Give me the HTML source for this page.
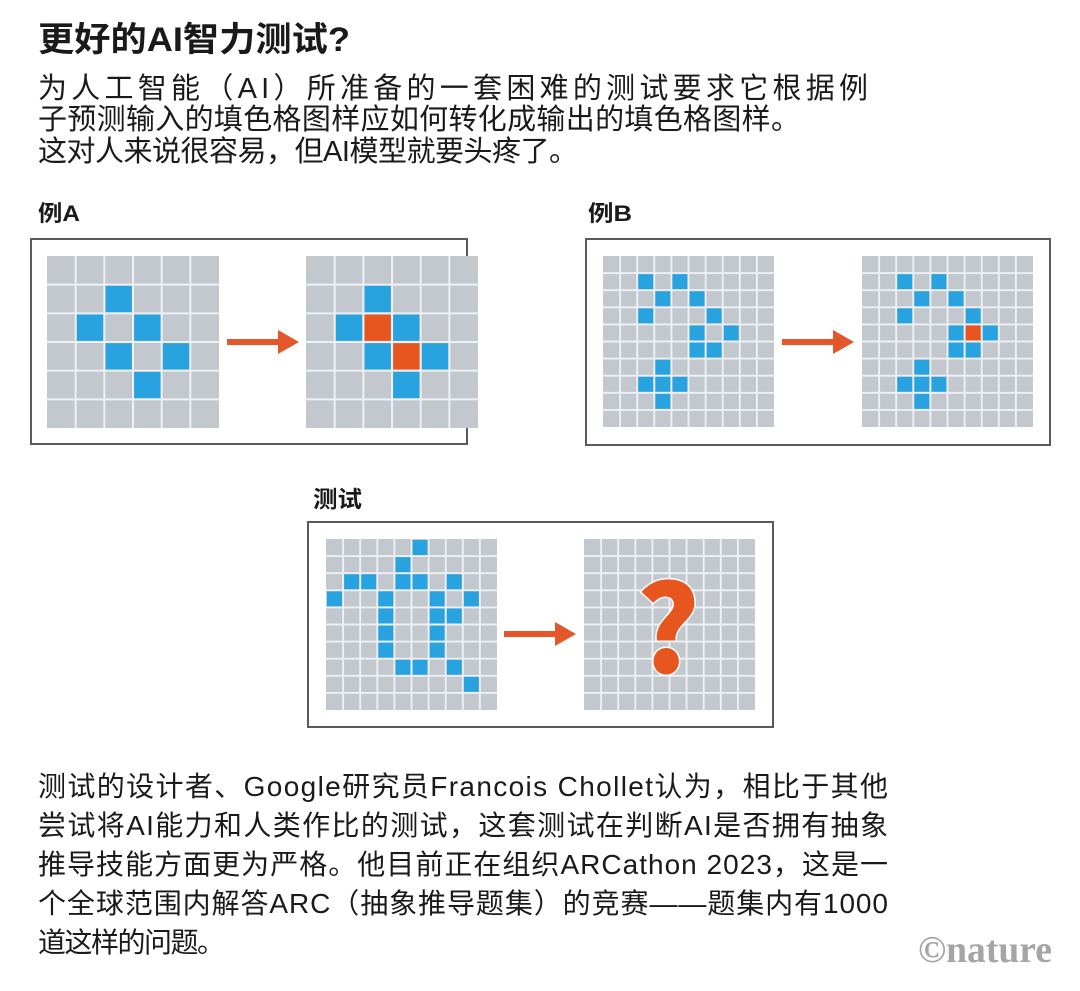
<!DOCTYPE html>
<html><head><meta charset="utf-8"><style>
html,body{margin:0;padding:0;background:#fff;}
svg{display:block;}
text{font-family:"Liberation Sans","Noto Sans CJK SC",sans-serif;fill:#1a1a1a;}
</style></head><body>
<svg width="1080" height="991" viewBox="0 0 1080 991" xmlns="http://www.w3.org/2000/svg">
<defs>
<g id="g6">
<rect x="0" y="0" width="6" height="6" fill="#c3c8cf"/>
<path d="M1 0V6M2 0V6M3 0V6M4 0V6M5 0V6M0 1H6M0 2H6M0 3H6M0 4H6M0 5H6" stroke="#eef0f3" stroke-width="0.07"/>
</g>
<g id="g10">
<rect x="0" y="0" width="10" height="10" fill="#c3c8cf"/>
<path d="M1 0V10M2 0V10M3 0V10M4 0V10M5 0V10M6 0V10M7 0V10M8 0V10M9 0V10M0 1H10M0 2H10M0 3H10M0 4H10M0 5H10M0 6H10M0 7H10M0 8H10M0 9H10" stroke="#eef0f3" stroke-width="0.11"/>
</g>
<g id="arrow">
<rect x="0" y="-3" width="54" height="6" fill="#e4572a"/>
<polygon points="51,-12 72,0 51,12" fill="#e4572a"/>
</g>
</defs>

<text x="38" y="51" font-size="34" font-weight="bold" textLength="312" lengthAdjust="spacingAndGlyphs">更好的AI智力测试?</text>
<text x="38" y="98" font-size="29" textLength="830" lengthAdjust="spacing">为人工智能（AI）所准备的一套困难的测试要求它根据例</text>
<text x="38" y="129" font-size="29" textLength="762" lengthAdjust="spacing">子预测输入的填色格图样应如何转化成输出的填色格图样。</text>
<text x="38" y="161" font-size="29" textLength="540" lengthAdjust="spacing">这对人来说很容易，但AI模型就要头疼了。</text>

<text x="38" y="221" font-size="22" font-weight="bold" textLength="42" lengthAdjust="spacingAndGlyphs">例A</text>
<text x="588" y="221" font-size="22" font-weight="bold" textLength="44" lengthAdjust="spacingAndGlyphs">例B</text>
<text x="313" y="507" font-size="23" font-weight="bold" textLength="49" lengthAdjust="spacingAndGlyphs">测试</text>

<rect x="31" y="239" width="436" height="205" fill="#fff" stroke="#5a5a5a" stroke-width="2"/>
<g transform="translate(47,256) scale(28.67)">
<use href="#g6"/>
<g fill="#29a3e0">
<rect x="2.04" y="1.04" width=".92" height=".92"/><rect x="1.04" y="2.04" width=".92" height=".92"/>
<rect x="3.04" y="2.04" width=".92" height=".92"/><rect x="2.04" y="3.04" width=".92" height=".92"/>
<rect x="4.04" y="3.04" width=".92" height=".92"/><rect x="3.04" y="4.04" width=".92" height=".92"/>
</g></g>
<use href="#arrow" transform="translate(227,342)"/>
<g transform="translate(306,256) scale(28.67)">
<use href="#g6"/>
<g fill="#29a3e0">
<rect x="2.04" y="1.04" width=".92" height=".92"/><rect x="1.04" y="2.04" width=".92" height=".92"/>
<rect x="3.04" y="2.04" width=".92" height=".92"/><rect x="2.04" y="3.04" width=".92" height=".92"/>
<rect x="4.04" y="3.04" width=".92" height=".92"/><rect x="3.04" y="4.04" width=".92" height=".92"/>
</g>
<g fill="#e8561f"><rect x="2.04" y="2.04" width=".92" height=".92"/><rect x="3.04" y="3.04" width=".92" height=".92"/></g>
</g>

<rect x="586" y="239" width="464" height="206" fill="#fff" stroke="#5a5a5a" stroke-width="2"/>
<g transform="translate(603,256) scale(17.1)">
<use href="#g10"/>
<g fill="#29a3e0">
<rect x="2.06" y="1.06" width=".88" height=".88"/><rect x="4.06" y="1.06" width=".88" height=".88"/>
<rect x="3.06" y="2.06" width=".88" height=".88"/><rect x="5.06" y="2.06" width=".88" height=".88"/>
<rect x="2.06" y="3.06" width=".88" height=".88"/><rect x="6.06" y="3.06" width=".88" height=".88"/>
<rect x="5.06" y="4.06" width=".88" height=".88"/><rect x="7.06" y="4.06" width=".88" height=".88"/>
<rect x="5.06" y="5.06" width=".88" height=".88"/><rect x="6.06" y="5.06" width=".88" height=".88"/>
<rect x="3.06" y="6.06" width=".88" height=".88"/>
<rect x="2.06" y="7.06" width=".88" height=".88"/><rect x="3.06" y="7.06" width=".88" height=".88"/><rect x="4.06" y="7.06" width=".88" height=".88"/>
<rect x="3.06" y="8.06" width=".88" height=".88"/>
</g></g>
<use href="#arrow" transform="translate(782,342)"/>
<g transform="translate(862,256) scale(17.1)">
<use href="#g10"/>
<g fill="#29a3e0">
<rect x="2.06" y="1.06" width=".88" height=".88"/><rect x="4.06" y="1.06" width=".88" height=".88"/>
<rect x="3.06" y="2.06" width=".88" height=".88"/><rect x="5.06" y="2.06" width=".88" height=".88"/>
<rect x="2.06" y="3.06" width=".88" height=".88"/><rect x="6.06" y="3.06" width=".88" height=".88"/>
<rect x="5.06" y="4.06" width=".88" height=".88"/><rect x="7.06" y="4.06" width=".88" height=".88"/>
<rect x="5.06" y="5.06" width=".88" height=".88"/><rect x="6.06" y="5.06" width=".88" height=".88"/>
<rect x="3.06" y="6.06" width=".88" height=".88"/>
<rect x="2.06" y="7.06" width=".88" height=".88"/><rect x="3.06" y="7.06" width=".88" height=".88"/><rect x="4.06" y="7.06" width=".88" height=".88"/>
<rect x="3.06" y="8.06" width=".88" height=".88"/>
</g>
<rect x="6.06" y="4.06" width=".88" height=".88" fill="#e8561f"/>
</g>

<rect x="308" y="522" width="465" height="205" fill="#fff" stroke="#5a5a5a" stroke-width="2"/>
<g transform="translate(326,539) scale(17.1)">
<use href="#g10"/>
<g fill="#29a3e0">
<rect x="5.06" y="0.06" width=".88" height=".88"/>
<rect x="4.06" y="1.06" width=".88" height=".88"/>
<rect x="1.06" y="2.06" width=".88" height=".88"/><rect x="2.06" y="2.06" width=".88" height=".88"/><rect x="4.06" y="2.06" width=".88" height=".88"/><rect x="5.06" y="2.06" width=".88" height=".88"/><rect x="7.06" y="2.06" width=".88" height=".88"/>
<rect x="0.06" y="3.06" width=".88" height=".88"/><rect x="3.06" y="3.06" width=".88" height=".88"/><rect x="6.06" y="3.06" width=".88" height=".88"/><rect x="8.06" y="3.06" width=".88" height=".88"/>
<rect x="3.06" y="4.06" width=".88" height=".88"/><rect x="6.06" y="4.06" width=".88" height=".88"/><rect x="7.06" y="4.06" width=".88" height=".88"/>
<rect x="3.06" y="5.06" width=".88" height=".88"/><rect x="6.06" y="5.06" width=".88" height=".88"/>
<rect x="3.06" y="6.06" width=".88" height=".88"/><rect x="6.06" y="6.06" width=".88" height=".88"/>
<rect x="4.06" y="7.06" width=".88" height=".88"/><rect x="5.06" y="7.06" width=".88" height=".88"/><rect x="7.06" y="7.06" width=".88" height=".88"/>
<rect x="8.06" y="8.06" width=".88" height=".88"/>
</g></g>
<use href="#arrow" transform="translate(504,634)"/>
<g transform="translate(584,539) scale(17.1)">
<use href="#g10"/>
</g>
<text x="668" y="673" font-size="120" font-weight="900" text-anchor="middle" textLength="64" lengthAdjust="spacingAndGlyphs" style="font-family:'Noto Sans CJK SC','DejaVu Sans',sans-serif;fill:#e8561f;stroke:#fff;stroke-width:3;paint-order:stroke">?</text>

<text x="38" y="796" font-size="28" textLength="850" lengthAdjust="spacing">测试的设计者、Google研究员Francois Chollet认为，相比于其他</text>
<text x="38" y="835" font-size="28" textLength="850" lengthAdjust="spacing">尝试将AI能力和人类作比的测试，这套测试在判断AI是否拥有抽象</text>
<text x="38" y="874" font-size="28" textLength="850" lengthAdjust="spacing">推导技能方面更为严格。他目前正在组织ARCathon 2023，这是一</text>
<text x="38" y="913" font-size="28" textLength="850" lengthAdjust="spacing">个全球范围内解答ARC（抽象推导题集）的竞赛——题集内有1000</text>
<text x="38" y="952" font-size="28" textLength="187" lengthAdjust="spacing">道这样的问题。</text>

<text x="918" y="962" font-size="38" font-weight="bold" textLength="134" lengthAdjust="spacingAndGlyphs" style="font-family:'Liberation Serif',serif;fill:#a5a5a5">©nature</text>
</svg>
</body></html>
